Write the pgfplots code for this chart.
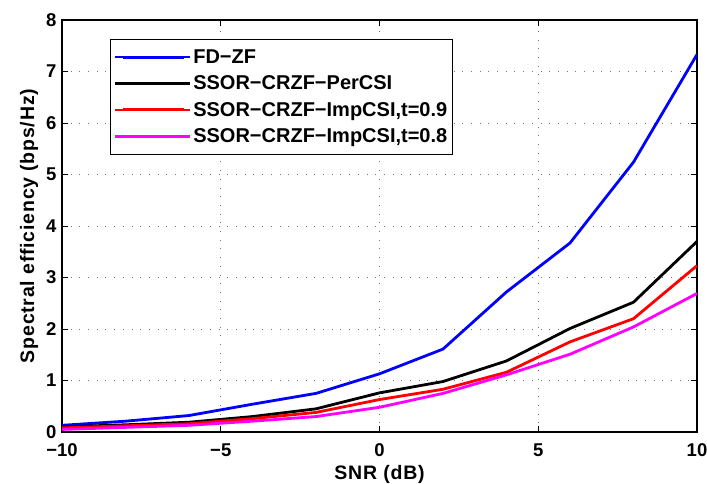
\documentclass[border=0pt]{standalone}
\usepackage{pgfplots}
\pgfplotsset{compat=1.18}
\usepackage{fontspec}
\setmainfont{Liberation Sans}
\definecolor{mag}{rgb}{1,0,1}
\definecolor{blu}{rgb}{0,0,1}
\definecolor{rd}{rgb}{1,0,0}
\newcommand{\ticksfont}{\bfseries\fontsize{18.5}{20}\selectfont}
\newcommand{\labfont}{\bfseries\fontsize{19.5}{21}\selectfont\addfontfeature{LetterSpace=4}}
\newcommand{\legfont}{\bfseries\fontsize{20}{22}\selectfont}
\begin{document}
\begin{tikzpicture}
\begin{axis}[
    scale only axis,
    width=635pt, height=412pt,
    xmin=-10, xmax=10,
    ymin=0, ymax=8,
    xtick={-10,-5,0,5,10},
    xticklabels={−10,−5,0,5,10},
    ytick={0,1,2,3,4,5,6,7,8},
    tick align=inside,
    major tick length=6pt,
    tick style={black, line width=0.8pt},
    axis line style={line width=1.2pt},
    grid=major,
    grid style={black!55, line width=0.8pt, dash pattern=on 0.9pt off 7.8pt},
    /pgf/number format/assume math mode=true,
    tick label style={font=\ticksfont},
    xticklabel style={anchor=base, yshift=-24.7pt},
    yticklabel style={xshift=-2pt},
    xlabel={SNR (dB)},
    ylabel={Spectral efficiency (bps/Hz)},
    xlabel style={font=\labfont, at={(axis description cs:0.5,0)}, anchor=base, yshift=-47pt},
    ylabel style={font=\labfont, at={(axis description cs:-0.052,0.5)}, anchor=center},
    legend cell align=left,
    legend style={
        at={(0.0756,0.954)}, anchor=north west,
        font=\legfont,
        draw=black, line width=1pt,
        inner xsep=3pt, inner ysep=8pt,
        row sep=7pt,
        nodes={inner xsep=2pt},
    },
    legend image code/.code={
        \draw[#1, line width=3pt] (8pt,0pt) -- (69pt,0pt);
        \path (0pt,0pt) -- (75pt,0pt);
    },
]
\addplot[blu, line width=2.8pt] coordinates {
(-10,0.13)(-8,0.21)(-6,0.32)(-4,0.54)(-2,0.75)(0,1.13)(2,1.61)(4,2.72)(6,3.67)(8,5.24)(10,7.33)
};
\addlegendentry{FD−ZF}
\addplot[black, line width=2.8pt] coordinates {
(-10,0.10)(-8,0.14)(-6,0.19)(-4,0.30)(-2,0.45)(0,0.76)(2,0.98)(4,1.38)(6,2.01)(8,2.52)(10,3.70)
};
\addlegendentry{SSOR−CRZF−PerCSI}
\addplot[rd, line width=2.8pt] coordinates {
(-10,0.08)(-8,0.12)(-6,0.16)(-4,0.26)(-2,0.38)(0,0.63)(2,0.83)(4,1.16)(6,1.75)(8,2.20)(10,3.23)
};
\addlegendentry{SSOR−CRZF−ImpCSI,t=0.9}
\addplot[mag, line width=2.8pt] coordinates {
(-10,0.05)(-8,0.09)(-6,0.13)(-4,0.21)(-2,0.30)(0,0.48)(2,0.75)(4,1.11)(6,1.51)(8,2.04)(10,2.69)
};
\addlegendentry{SSOR−CRZF−ImpCSI,t=0.8}
\coordinate (o) at (rel axis cs:0,0);
\end{axis}
\pgfresetboundingbox
\useasboundingbox ([shift={(-62pt,-51pt)}]o) rectangle ([shift={(645pt,432pt)}]o);
\end{tikzpicture}
\end{document}
